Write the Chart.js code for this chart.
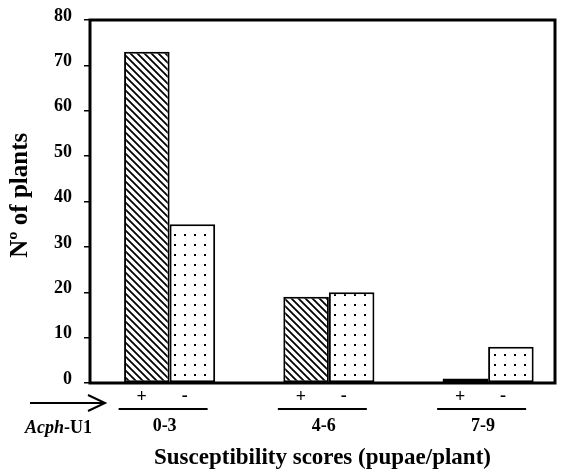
<!DOCTYPE html>
<html>
<head>
<meta charset="utf-8">
<script src="https://cdn.jsdelivr.net/npm/chart.js@4"></script>
<style>
  html, body { margin: 0; padding: 0; background: #fff; }
  #wrap { width: 570px; height: 470px; }
</style>
</head>
<body>
<div id="wrap"><canvas id="chart"></canvas></div>
<script>
// Acph-U1 presence (+) / absence (-) by susceptibility score class
const categories = ['0-3', '4-6', '7-9'];
const plusValues = [73, 19, 1];
const minusValues = [35, 20, 8];
const yTicks = [0, 10, 20, 30, 40, 50, 60, 70, 80];

const SERIF = '"Liberation Serif", "Times New Roman", serif';

function hatchPattern() {
    const c = document.createElement('canvas');
    c.width = 7; c.height = 7;
    const g = c.getContext('2d');
    g.fillStyle = '#fff';
    g.fillRect(0, 0, 7, 7);
    g.strokeStyle = '#000';
    g.lineWidth = 1.8;
    g.beginPath();
    g.moveTo(-1, -1); g.lineTo(8, 8);
    g.moveTo(-1, 6); g.lineTo(1, 8);
    g.moveTo(6, -1); g.lineTo(8, 1);
    g.stroke();
    return document.getElementById('chart').getContext('2d').createPattern(c, 'repeat');
}

function dotPattern() {
    const c = document.createElement('canvas');
    c.width = 10; c.height = 10;
    const g = c.getContext('2d');
    g.fillStyle = '#fff';
    g.fillRect(0, 0, 10, 10);
    g.fillStyle = '#000';
    g.fillRect(4, 4, 2, 2);
    return document.getElementById('chart').getContext('2d').createPattern(c, 'repeat');
}

// frame + under-axis annotations (+/- marks, group lines, labels, arrow)
const decorations = {
    id: 'decorations',
    afterDraw(chart) {
        const { ctx, chartArea: a, scales: { x } } = chart;
        ctx.save();
        ctx.strokeStyle = '#000';
        ctx.lineWidth = 3;
        ctx.strokeRect(a.left, a.top, a.right - a.left, a.bottom - a.top);

        ctx.fillStyle = '#000';
        ctx.textAlign = 'center';
        ctx.textBaseline = 'middle';
        ctx.lineWidth = 2;
        categories.forEach((c, i) => {
            const cx = x.getPixelForValue(i);
            ctx.font = 'bold 18px ' + SERIF;
            ctx.fillText('+', cx - 28, 397);
            ctx.fillText('-', cx + 15, 396);
            ctx.beginPath();
            ctx.moveTo(cx - 51, 409);
            ctx.lineTo(cx + 38, 409);
            ctx.stroke();
            ctx.fillText(c, cx - 5, 426);
        });

        // arrow
        ctx.lineWidth = 2;
        ctx.beginPath();
        ctx.moveTo(30, 403);
        ctx.lineTo(104, 403);
        ctx.moveTo(88, 395);
        ctx.lineTo(105, 403);
        ctx.lineTo(88, 411);
        ctx.stroke();

        // gene label
        ctx.textAlign = 'left';
        ctx.font = 'italic bold 18px ' + SERIF;
        const w = ctx.measureText('Acph').width;
        ctx.fillText('Acph', 25, 428);
        ctx.font = 'bold 18px ' + SERIF;
        ctx.fillText('-U1', 25 + w, 428);
        ctx.restore();
    }
};

new Chart(document.getElementById('chart'), {
    type: 'bar',
    data: {
        datasets: [{
            label: '+',
            data: plusValues.map((v, i) => ({ x: i, y: v })),
            backgroundColor: hatchPattern(),
            borderColor: '#000',
            borderWidth: 2,
            borderSkipped: false
        }, {
            label: '-',
            data: minusValues.map((v, i) => ({ x: i, y: v })),
            backgroundColor: dotPattern(),
            borderColor: '#000',
            borderWidth: 2,
            borderSkipped: false
        }]
    },
    options: {
        responsive: true,
        maintainAspectRatio: false,
        animation: false,
        layout: { padding: { top: 20, right: 15, left: 0, bottom: 0 } },
        plugins: {
            legend: { display: false },
            tooltip: { enabled: false }
        },
        datasets: {
            bar: { barPercentage: 1, categoryPercentage: 0.572 }
        },
        scales: {
            x: {
                type: 'linear',
                offset: false,
                min: -0.5,
                max: 2.42,
                afterFit: s => { s.height = 87; s.paddingLeft = 0; s.paddingRight = 0; },
                afterBuildTicks: s => { s.ticks = categories.map((c, i) => ({ value: i })); },
                grid: { display: false },
                border: { display: false },
                ticks: { display: false },
                title: {
                    display: true,
                    text: 'Susceptibility scores (pupae/plant)',
                    color: '#000',
                    padding: { top: 0, bottom: 0 },
                    font: { family: SERIF, size: 23, weight: 'bold', lineHeight: 1 }
                }
            },
            y: {
                min: 0,
                max: 80,
                afterFit: s => { s.width = 90; s.paddingTop = 0; s.paddingBottom = 0; },
                afterBuildTicks: s => { s.ticks = yTicks.map(v => ({ value: v })); },
                grid: { drawOnChartArea: false, tickLength: 6, color: '#000', lineWidth: 1.5 },
                border: { display: false },
                ticks: {
                    padding: 12,
                    labelOffset: -4,
                    color: '#000',
                    font: { family: SERIF, size: 18, weight: 'bold' }
                },
                title: {
                    display: true,
                    text: '  Nº of plants',
                    color: '#000',
                    padding: { top: 6, bottom: 0 },
                    font: { family: SERIF, size: 25, weight: 'bold' }
                }
            }
        }
    },
    plugins: [decorations]
});
</script>
</body>
</html>
